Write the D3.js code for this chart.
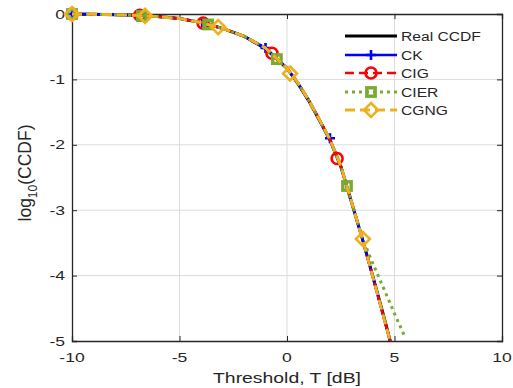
<!DOCTYPE html>
<html><head><meta charset="utf-8">
<script src="https://cdn.jsdelivr.net/npm/d3@7/dist/d3.min.js"></script>
<style>
html,body{margin:0;padding:0;background:#fff;}
text{font-family:"Liberation Sans",Arial,Helvetica,sans-serif;fill:#262626;}
</style></head>
<body>
<svg id="chart" width="513" height="388"></svg>
<script>
// ---- data ----
const xTicks = [-10, -5, 0, 5, 10];
const yTicks = [0, -1, -2, -3, -4, -5];
const xTickLabels = ["-10", "-5", "0", "5", "10"];
const yTickLabels = ["0", "-1", "-2", "-3", "-4", "-5"];

const thresholdDb = [-10, -9, -8, -7, -6, -5, -4, -3, -2, -1, 0, 0.5, 1, 1.5, 2, 2.5, 3, 3.5, 4, 4.5, 4.8];
const realCcdf = [0, -0.005, -0.01, -0.02, -0.04, -0.07, -0.13, -0.22, -0.34, -0.53, -0.83, -1.06, -1.32, -1.62, -1.93, -2.33, -2.88, -3.43, -4.02, -4.62, -5.0];
const ckCcdf   = [0, -0.005, -0.01, -0.02, -0.04, -0.07, -0.13, -0.22, -0.34, -0.52, -0.83, -1.05, -1.31, -1.61, -1.92, -2.32, -2.87, -3.43, -4.03, -4.64, -5.0];
const cigCcdf  = [0, -0.005, -0.01, -0.02, -0.04, -0.07, -0.13, -0.22, -0.34, -0.52, -0.83, -1.05, -1.31, -1.61, -1.92, -2.32, -2.87, -3.43, -4.03, -4.64, -5.0];
const cgngCcdf = [0, -0.005, -0.01, -0.02, -0.04, -0.07, -0.13, -0.22, -0.34, -0.52, -0.83, -1.05, -1.31, -1.61, -1.92, -2.32, -2.87, -3.43, -4.03, -4.64, -5.0];
const cierX    = [-10, -9, -8, -7, -6, -5, -4, -3, -2, -1, 0, 0.5, 1, 1.5, 2, 2.5, 3, 3.5, 4, 4.5, 5, 5.5];
const cierCcdf = [0, -0.005, -0.01, -0.02, -0.04, -0.07, -0.13, -0.22, -0.34, -0.52, -0.83, -1.05, -1.31, -1.61, -1.92, -2.32, -2.87, -3.42, -3.82, -4.2, -4.58, -4.95];

const ckMarkX   = [-10, -6.9, -3.95, -1.0, 2.0];
const ckMarkY   = [0, -0.02, -0.13, -0.52, -1.9];
const cigMarkX  = [-10, -6.85, -3.9, -0.7, 2.33];
const cigMarkY  = [0, -0.02, -0.14, -0.6, -2.21];
const cierMarkX = [-10, -6.75, -3.67, -0.47, 2.79];
const cierMarkY = [0, -0.03, -0.16, -0.69, -2.63];
const cgngMarkX = [-10, -6.6, -3.2, 0.14, 3.53];
const cgngMarkY = [0, -0.03, -0.2, -0.91, -3.44];

const seriesNames = ["Real CCDF", "CK", "CIG", "CIER", "CGNG"];

// ---- layout ----
const L = 72, R = 502, T = 14, B = 341;
const svg = d3.select("#chart");
const x = d3.scaleLinear().domain([-10, 10]).range([L, R]);
const y = d3.scaleLinear().domain([-5, 0]).range([B, T]);

function stretch(sel, k) {
  sel.each(function () {
    const w = this.getComputedTextLength();
    d3.select(this).attr("textLength", w * k).attr("lengthAdjust", "spacingAndGlyphs");
  });
}

// grid
svg.append("g").selectAll("line").data(xTicks.slice(1, -1)).join("line")
  .attr("x1", d => x(d)).attr("x2", d => x(d)).attr("y1", T).attr("y2", B)
  .attr("stroke", "#dcdcdc").attr("stroke-width", 1);
svg.append("g").selectAll("line").data(yTicks.slice(1, -1)).join("line")
  .attr("y1", d => y(d)).attr("y2", d => y(d)).attr("x1", L).attr("x2", R)
  .attr("stroke", "#dcdcdc").attr("stroke-width", 1);

// axes (ticks inward, box)
const axB = svg.append("g").attr("transform", `translate(0,${B})`)
  .call(d3.axisBottom(x).tickValues(xTicks).tickSize(-5).tickFormat(""));
const axT = svg.append("g").attr("transform", `translate(0,${T})`)
  .call(d3.axisTop(x).tickValues(xTicks).tickSize(-5).tickFormat(""));
const axL = svg.append("g").attr("transform", `translate(${L},0)`)
  .call(d3.axisLeft(y).tickValues(yTicks).tickSize(-5).tickFormat(""));
const axR = svg.append("g").attr("transform", `translate(${R},0)`)
  .call(d3.axisRight(y).tickValues(yTicks).tickSize(-5).tickFormat(""));
[axB, axT, axL, axR].forEach(a => {
  a.select(".domain").attr("stroke", "#262626").attr("stroke-width", 1.3);
  a.selectAll(".tick line").attr("stroke", "#262626").attr("stroke-width", 1);
});

// tick labels
const xl = svg.append("g").selectAll("text").data(xTicks).join("text")
  .attr("x", d => x(d)).attr("y", 362).attr("text-anchor", "middle")
  .attr("font-size", 13).text((d, i) => xTickLabels[i]);
stretch(xl, 1.35);
const yl = svg.append("g").selectAll("text").data(yTicks).join("text")
  .attr("x", 65).attr("y", d => y(d)).attr("dy", "0.36em").attr("text-anchor", "end")
  .attr("font-size", 13).text((d, i) => yTickLabels[i]);
stretch(yl, 1.35);

// axis titles
const xt = svg.append("text").attr("x", 287).attr("y", 383).attr("text-anchor", "middle")
  .attr("font-size", 15.5).text("Threshold, T [dB]");
stretch(xt, 1.25);
const yt = svg.append("text").attr("transform", "translate(31,173) rotate(-90)")
  .attr("text-anchor", "middle").attr("font-size", 17.5);
yt.append("tspan").text("log");
yt.append("tspan").attr("font-size", 12).attr("dy", 6).text("10");
yt.append("tspan").attr("dy", -6).text("(CCDF)");

// ---- series ----
const line = d3.line().x(d => x(d[0])).y(d => y(d[1]));
const zip = (a, b) => a.map((v, i) => [v, b[i]]);

const styles = {
  "Real CCDF": {color: "#000000", width: 3, dash: null},
  "CK":   {color: "#0000ff", width: 2.6, dash: null},
  "CIG":  {color: "#ff0000", width: 2.6, dash: "9,5"},
  "CIER": {color: "#77ac30", width: 3, dash: "3,4"},
  "CGNG": {color: "#edb120", width: 3, dash: "10,5"}
};
const seriesData = {
  "Real CCDF": zip(thresholdDb, realCcdf),
  "CK": zip(thresholdDb, ckCcdf),
  "CIG": zip(thresholdDb, cigCcdf),
  "CIER": zip(cierX, cierCcdf),
  "CGNG": zip(thresholdDb, cgngCcdf)
};
const markData = {
  "CK": zip(ckMarkX, ckMarkY),
  "CIG": zip(cigMarkX, cigMarkY),
  "CIER": zip(cierMarkX, cierMarkY),
  "CGNG": zip(cgngMarkX, cgngMarkY)
};

function drawMarker(g, name, cx, cy) {
  const s = styles[name];
  if (name === "CK") {
    g.append("path").attr("d", `M${cx-5},${cy}H${cx+5}M${cx},${cy-5}V${cy+5}`)
      .attr("stroke", s.color).attr("stroke-width", 2.6).attr("fill", "none");
  } else if (name === "CIG") {
    g.append("circle").attr("cx", cx).attr("cy", cy).attr("r", 5.5)
      .attr("stroke", s.color).attr("stroke-width", 2.6).attr("fill", "none");
  } else if (name === "CIER") {
    g.append("rect").attr("x", cx - 4.2).attr("y", cy - 4.2).attr("width", 8.4).attr("height", 8.4)
      .attr("stroke", s.color).attr("stroke-width", 3.4).attr("fill", "none");
  } else if (name === "CGNG") {
    g.append("path").attr("d", `M${cx},${cy-7}L${cx+7},${cy}L${cx},${cy+7}L${cx-7},${cy}Z`)
      .attr("stroke", s.color).attr("stroke-width", 2.6).attr("fill", "none").attr("stroke-linejoin", "miter");
  }
}

seriesNames.forEach(name => {
  const s = styles[name];
  const g = svg.append("g");
  g.append("path").datum(seriesData[name]).attr("d", line)
    .attr("fill", "none").attr("stroke", s.color).attr("stroke-width", s.width)
    .attr("stroke-dasharray", s.dash).attr("stroke-linejoin", "round");
  if (markData[name]) markData[name].forEach(d => drawMarker(g, name, x(d[0]), y(d[1])));
});

// ---- legend ----
const legY = [36, 55, 73, 92, 110];
seriesNames.forEach((name, i) => {
  const s = styles[name];
  const g = svg.append("g");
  const ly = legY[i];
  g.append("line").attr("x1", 345).attr("x2", 397).attr("y1", ly).attr("y2", ly)
    .attr("stroke", s.color).attr("stroke-width", s.width).attr("stroke-dasharray", s.dash);
  if (name !== "Real CCDF") drawMarker(g, name, 371, ly);
  const t = g.append("text").attr("x", 401).attr("y", ly).attr("dy", "0.36em")
    .attr("font-size", 12.5).text(name);
  stretch(t, 1.25);
});
</script>
</body></html>
